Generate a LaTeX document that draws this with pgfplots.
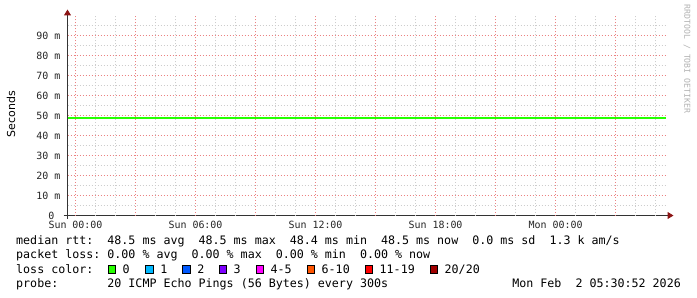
\documentclass[border=0pt]{standalone}
\usepackage{fontspec}
\setmainfont{DejaVu Sans}
\setmonofont{DejaVu Sans Mono}
\usepackage{pgfplots}
\pgfplotsset{compat=1.18}
\usetikzlibrary{arrows.meta}
\definecolor{mgrid}{RGB}{235,130,130}
\definecolor{ngrid}{RGB}{205,205,205}
\definecolor{arrowred}{RGB}{140,20,20}
\definecolor{lossA}{HTML}{26FF00}
\definecolor{lossB}{HTML}{00B8FF}
\definecolor{lossC}{HTML}{0059FF}
\definecolor{lossD}{HTML}{7E00FF}
\definecolor{lossE}{HTML}{FF00FF}
\definecolor{lossF}{HTML}{FF5500}
\definecolor{lossG}{HTML}{FF0000}
\definecolor{lossH}{HTML}{A10000}
\tikzset{mg/.style={draw=mgrid, line width=1bp, dash pattern=on 1bp off 2bp},
         ng/.style={draw=ngrid, line width=1bp, dash pattern=on 1bp off 2bp}}
\newcommand{\legfont}{\ttfamily\fontsize{11.7}{14}\selectfont}
\begin{document}
\begin{tikzpicture}
\begin{scope}[x=1bp,y=1bp]
\useasboundingbox (0,0) rectangle (697,297);
\fill[white] (0,0) rectangle (697,297);
\end{scope}
\begin{axis}[
  at={(67.5bp,81.5bp)}, anchor=south west,
  scale only axis, width=600bp, height=200bp,
  xmin=-0.4, xmax=29.6, ymin=0, ymax=100,
  axis lines=left,
  xtick={0,6,...,24},
  xticklabels={Sun 00:00,Sun 06:00,Sun 12:00,Sun 18:00,Mon 00:00},
  ytick={0,10,...,90},
  yticklabels={0\hphantom{x},10 m,20 m,30 m,40 m,50 m,60 m,70 m,80 m,90 m},
  major tick length=0pt, minor tick length=0pt,
  tick label style={font=\ttfamily\fontsize{10}{12}\selectfont, text=black!85},
  yticklabel style={anchor=east, inner sep=0pt, xshift=-7bp},
  xticklabel style={anchor=north, inner sep=0pt, yshift=-5.5bp},
  axis line style={black!80, line width=1bp},
  x axis line style={-{Triangle[length=6bp,width=7bp,color=arrowred]}, shorten <=-4bp, shorten >=-6bp},
  y axis line style={-{Triangle[length=6bp,width=7bp,color=arrowred]}, shorten <=-3bp, shorten >=-6bp},
]
\pgfplotsinvokeforeach{1,2,4,5,7,8,10,11,13,14,16,17,19,20,22,23,25,26,28,29}{
  \draw[ng] (axis cs:#1,0) -- (axis cs:#1,101);
}
\pgfplotsinvokeforeach{5,15,25,35,45,55,65,75,85,95}{
  \draw[ng] (axis cs:-0.4,#1) -- (axis cs:29.6,#1);
}
\pgfplotsinvokeforeach{0,3,6,9,12,15,18,21,24,27}{
  \draw[mg] (axis cs:#1,0) -- (axis cs:#1,101);
}
\pgfplotsinvokeforeach{10,20,30,40,50,60,70,80,90}{
  \draw[mg] (axis cs:-0.4,#1) -- (axis cs:29.6,#1);
}
\addplot[color=lossA, line width=2bp] coordinates {(-0.4,48.5) (29.5,48.5)};
\end{axis}
\begin{scope}[x=1bp,y=1bp]
\node[rotate=90, font=\fontsize{11}{13}\selectfont] at (11,183) {Seconds};
\node[rotate=-90, text=black!30, font=\ttfamily\fontsize{8.2}{10}\selectfont] at (687,238) {RRDTOOL / TOBI OETIKER};
\node[anchor=base west, inner sep=0pt, font=\legfont] at (16,52.5) {median rtt:~~48.5 ms avg~~48.5 ms max~~48.4 ms min~~48.5 ms now~~0.0 ms sd~~1.3 k am/s};
\node[anchor=base west, inner sep=0pt, font=\legfont] at (16,38.3) {packet loss:~0.00 \% avg~~0.00 \% max~~0.00 \% min~~0.00 \% now};
\node[anchor=base west, inner sep=0pt, font=\legfont] at (16,24) {loss color:};
\node[anchor=base west, inner sep=0pt, font=\legfont] at (16,10) {probe:~~~~~~~20 ICMP Echo Pings (56 Bytes) every 300s};
\node[anchor=base east, inner sep=0pt, font=\legfont] at (681,10) {Mon Feb~~2 05:30:52 2026};
\foreach \bx/\col/\lab in {108/lossA/{0}, 145.7/lossB/{1}, 182.7/lossC/{2}, 219/lossD/{3}, 256/lossE/{4-5}, 307/lossF/{6-10}, 365/lossG/{11-19}, 430/lossH/{20/20}} {
  \filldraw[fill=\col, draw=black, line width=0.8bp] (\bx,24) rectangle ++(7.5,8);
  \node[anchor=base west, inner sep=0pt, font=\legfont] at (\bx+14.5,24) {\lab};
}
\end{scope}
\end{tikzpicture}
\end{document}
